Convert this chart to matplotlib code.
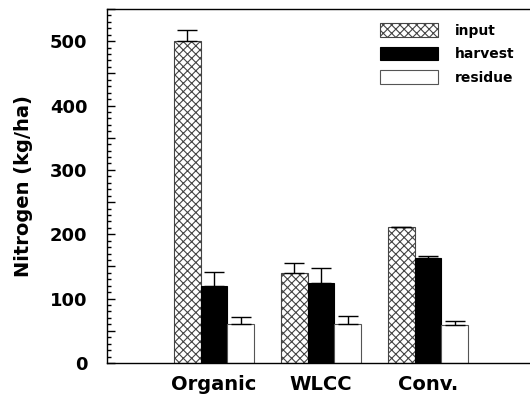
import matplotlib.pyplot as plt
import numpy as np
from matplotlib.ticker import MultipleLocator, FuncFormatter

plt.rcParams['font.family'] = ['DejaVu Sans']
plt.rcParams['font.weight'] = 'bold'
plt.rcParams['hatch.linewidth'] = 0.8

systems = ['Organic', 'WLCC', 'Conv.']
series = ['input', 'harvest', 'residue']
input_n = [500, 140, 211]
input_err = [18, 15, 0]
harvest_n = [120, 125, 163]
harvest_err = [21, 22, 4]
residue_n = [60, 60, 59]
residue_err = [12, 13, 6]

fig = plt.figure(figsize=(5.3, 3.94), dpi=100)
ax = fig.add_axes([0.2019, 0.0787, 0.8075, 0.8985])

x = np.arange(1, len(systems) + 1)
w = 0.25
ekw = dict(ecolor='black', elinewidth=1.0, capsize=7, capthick=1.0)
b1 = ax.bar(x - w, input_n, w, color='white', edgecolor='#444444', hatch='xxxx',
            linewidth=0.8, yerr=[np.zeros(3), input_err], error_kw=ekw, label=series[0])
b2 = ax.bar(x, harvest_n, w, color='black', edgecolor='black',
            linewidth=0.8, yerr=[np.zeros(3), harvest_err], error_kw=ekw, label=series[1])
b3 = ax.bar(x + w, residue_n, w, color='white', edgecolor='#555555',
            linewidth=0.8, yerr=[np.zeros(3), residue_err], error_kw=ekw, label=series[2])

ax.set_xlim(0, 4)
ax.set_ylim(0, 550)
ax.set_xticks(x)
ax.set_xticklabels(systems, fontsize=14, fontweight='bold')
ax.tick_params(axis='x', length=0, pad=9)
ax.yaxis.set_major_locator(MultipleLocator(50))
ax.yaxis.set_minor_locator(MultipleLocator(10))
ax.yaxis.set_major_formatter(FuncFormatter(lambda v, p: '%d' % v if v % 100 == 0 else ''))
ax.tick_params(axis='y', which='major', direction='in', length=6, width=1, labelsize=13, pad=14)
ax.tick_params(axis='y', which='minor', direction='in', length=3, width=1)
ax.set_ylabel('Nitrogen (kg/ha)', fontsize=14, fontweight='bold', labelpad=12)
for s in ['left', 'bottom', 'top']:
    ax.spines[s].set_linewidth(1.0)
ax.spines['right'].set_visible(False)

ax.legend(loc='upper left', bbox_to_anchor=(0.625, 0.975), frameon=False,
          fontsize=10, handlelength=4.2, handleheight=1.1, labelspacing=0.65,
          handletextpad=1.2, borderaxespad=0)

plt.savefig('out.png', dpi=100)
